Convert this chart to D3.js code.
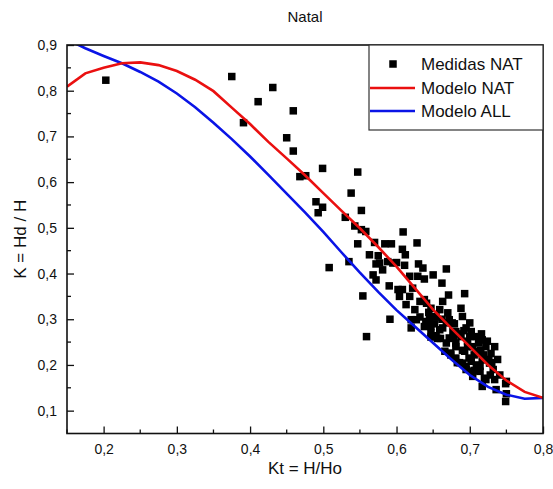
<!DOCTYPE html>
<html><head><meta charset="utf-8">
<script src="https://cdn.jsdelivr.net/npm/d3@7"></script>
<style>
html,body{margin:0;padding:0;background:#fff;}
text{font-family:"Liberation Sans",Arial,sans-serif;fill:#111;}
</style></head>
<body><svg id="chart" width="553" height="489"></svg>
<script>
const title = "Natal";
const xLabel = "Kt = H/Ho";
const yLabel = "K = Hd / H";
const seriesNames = ["Medidas NAT", "Modelo NAT", "Modelo ALL"];
const xTicks = [0.2,0.3,0.4,0.5,0.6,0.7,0.8];
const yTicks = [0.1,0.2,0.3,0.4,0.5,0.6,0.7,0.8,0.9];

// Modelo NAT (red)
const natX = [0.15,0.175,0.2,0.225,0.25,0.275,0.3,0.325,0.35,0.375,0.4,0.425,0.45,0.475,0.5,0.525,0.55,0.575,0.6,0.625,0.65,0.675,0.7,0.725,0.75,0.775,0.8];
const natY = [0.809,0.838,0.850,0.860,0.862,0.856,0.843,0.824,0.799,0.763,0.727,0.688,0.652,0.615,0.576,0.537,0.499,0.458,0.415,0.368,0.321,0.280,0.240,0.200,0.166,0.141,0.128];
// Modelo ALL (blue)
const allX = [0.15,0.175,0.2,0.225,0.25,0.275,0.3,0.325,0.35,0.375,0.4,0.425,0.45,0.475,0.5,0.525,0.55,0.575,0.6,0.625,0.65,0.675,0.7,0.725,0.75,0.775,0.8];
const allY = [0.912,0.893,0.876,0.860,0.841,0.820,0.794,0.764,0.730,0.694,0.656,0.616,0.575,0.534,0.491,0.446,0.402,0.360,0.320,0.284,0.248,0.212,0.178,0.152,0.135,0.126,0.128];

// Medidas NAT (scatter)
const medX = [0.203,0.375,0.391,0.411,0.431,0.450,0.459,0.459,
 0.499,0.547,0.468,0.476,0.538,0.490,0.499,0.493,0.552,0.530,0.543,0.552,0.558,0.609,0.547,0.570,0.584,0.593,0.628,0.608,0.563,0.575,0.612,0.535,0.572,0.588,0.600,0.611,0.630,0.508,
 0.636,0.668,0.618,0.629,0.638,0.650,0.662,0.608,0.622,0.671,0.693,0.618,0.638,0.663,0.613,0.625,0.647,0.659,0.688,0.670,0.632,0.654,0.690,0.620,0.640,0.672,0.679,0.647,0.663,0.695,0.681,0.702,0.654,0.672,0.688,0.709,0.647,0.697,0.717,0.668,0.681,0.704,0.722,0.734,0.674,0.693,0.711,0.729,0.681,0.699,0.717,0.690,0.709,0.727,0.695,0.714,0.732,0.704,0.720,0.734,0.717,0.736,0.749,0.750,0.749,
 0.554,0.591,0.559,0.620,0.590,0.602,0.604,0.568,0.572,0.581,0.595,0.577,0.632,0.641,0.627,0.645,0.638,0.647,0.659,0.650,0.668,0.677,0.681,0.674,0.714,0.714,0.722,0.704,0.695,0.750,
 0.684,0.700,0.712,0.690,0.706,0.676,0.726,0.662,0.656,0.686,0.697,0.708,0.719,0.730,0.741,0.678,0.715,0.702,0.666,0.644,0.652,0.700,0.724,0.738,0.706,0.692,0.683,0.728,0.716,0.660];
const medY = [0.823,0.831,0.730,0.776,0.807,0.697,0.756,0.668,
 0.630,0.622,0.612,0.614,0.576,0.557,0.545,0.533,0.538,0.523,0.504,0.496,0.492,0.491,0.465,0.468,0.465,0.465,0.467,0.453,0.441,0.439,0.441,0.426,0.421,0.426,0.424,0.418,0.421,0.413,
 0.412,0.410,0.394,0.394,0.388,0.397,0.379,0.365,0.368,0.353,0.356,0.350,0.343,0.339,0.332,0.321,0.324,0.321,0.324,0.314,0.305,0.305,0.306,0.299,0.295,0.299,0.290,0.284,0.281,0.281,0.273,0.273,0.264,0.259,0.262,0.262,0.261,0.252,0.255,0.248,0.240,0.240,0.240,0.240,0.226,0.230,0.226,0.225,0.215,0.215,0.211,0.204,0.200,0.204,0.190,0.186,0.190,0.175,0.171,0.168,0.153,0.146,0.159,0.137,0.120,
 0.351,0.300,0.262,0.281,0.373,0.365,0.350,0.397,0.386,0.408,0.423,0.423,0.339,0.335,0.299,0.299,0.284,0.270,0.277,0.306,0.292,0.273,0.248,0.222,0.255,0.197,0.168,0.186,0.197,0.164,
 0.268,0.262,0.248,0.232,0.222,0.292,0.212,0.300,0.258,0.205,0.240,0.230,0.222,0.205,0.178,0.258,0.232,0.208,0.230,0.315,0.290,0.292,0.252,0.212,0.188,0.275,0.205,0.178,0.268,0.258];

const W = 553, H = 489;
const m = {left:67, right:543, top:45, bottom:433.5};
const svg = d3.select("#chart");
const x = d3.scaleLinear().domain([0.15,0.8]).range([m.left,m.right]);
const y = d3.scaleLinear().domain([0.05,0.9]).range([m.bottom,m.top]);
const fmt = v => d3.format(".1f")(v).replace(".", ",");

svg.append("rect").attr("width",W).attr("height",H).attr("fill","#fff");

svg.append("defs").append("clipPath").attr("id","clip")
  .append("rect").attr("x",m.left).attr("y",m.top).attr("width",m.right-m.left).attr("height",m.bottom-m.top);

const plot = svg.append("g").attr("clip-path","url(#clip)");

// scatter
const pts = medX.map((v,i)=>[v,medY[i]]);
const sq = 7.5;
plot.append("g").selectAll("rect").data(pts).join("rect")
  .attr("x",d=>x(d[0])-sq/2).attr("y",d=>y(d[1])-sq/2)
  .attr("width",sq).attr("height",sq).attr("fill","#000");

const line = d3.line().x(d=>x(d[0])).y(d=>y(d[1])).curve(d3.curveLinear);
plot.append("path").datum(allX.map((v,i)=>[v,allY[i]]))
  .attr("d",line).attr("fill","none").attr("stroke","#0a14e6").attr("stroke-width",2.6);
plot.append("path").datum(natX.map((v,i)=>[v,natY[i]]))
  .attr("d",line).attr("fill","none").attr("stroke","#ea1010").attr("stroke-width",2.6);

// axes (ticks inward)
const xAxis = d3.axisBottom(x).tickValues(xTicks).tickSize(-7).tickPadding(11).tickFormat(fmt);
const gx = svg.append("g").attr("transform",`translate(0,${m.bottom})`).call(xAxis);
const xMinor = [0.15,0.25,0.35,0.45,0.55,0.65,0.75];
gx.selectAll(".minor").data(xMinor).join("line").attr("class","minor")
  .attr("x1",d=>x(d)).attr("x2",d=>x(d)).attr("y1",0).attr("y2",-4).attr("stroke","#111").attr("stroke-width",1.3);

const yAxis = d3.axisLeft(y).tickValues(yTicks).tickSize(-7).tickPadding(10).tickFormat(fmt);
const gy = svg.append("g").attr("transform",`translate(${m.left},0)`).call(yAxis);
const yMinor = [0.15,0.25,0.35,0.45,0.55,0.65,0.75,0.85];
gy.selectAll(".minor").data(yMinor).join("line").attr("class","minor")
  .attr("y1",d=>y(d)).attr("y2",d=>y(d)).attr("x1",0).attr("x2",4).attr("stroke","#111").attr("stroke-width",1.3);

[gx,gy].forEach(g=>{
  g.select(".domain").remove();
  g.selectAll(".tick line").attr("stroke","#111").attr("stroke-width",1.3);
  g.selectAll(".tick text").attr("font-size",14).attr("fill","#111").attr("font-family","Liberation Sans, Arial, sans-serif");
});

// frame
svg.append("rect").attr("x",m.left).attr("y",m.top).attr("width",m.right-m.left).attr("height",m.bottom-m.top)
  .attr("fill","none").attr("stroke","#111").attr("stroke-width",1.6);

// legend
const lg = svg.append("g");
lg.append("rect").attr("x",369).attr("y",m.top).attr("width",m.right-369).attr("height",85)
  .attr("fill","#fff").attr("stroke","#333").attr("stroke-width",1.2);
const ly = [64,88,111];
lg.append("rect").attr("x",393-sq/2).attr("y",ly[0]-sq/2).attr("width",sq).attr("height",sq).attr("fill","#000");
lg.append("line").attr("x1",370).attr("x2",415).attr("y1",ly[1]).attr("y2",ly[1]).attr("stroke","#ea1010").attr("stroke-width",2.6);
lg.append("line").attr("x1",370).attr("x2",415).attr("y1",ly[2]).attr("y2",ly[2]).attr("stroke","#0a14e6").attr("stroke-width",2.6);
seriesNames.forEach((s,i)=>{
  lg.append("text").attr("x",421).attr("y",ly[i]).attr("dy","0.36em").attr("font-size",17).text(s);
});

// titles
svg.append("text").attr("x",(m.left+m.right)/2).attr("y",17).attr("dy","0.36em").attr("text-anchor","middle").attr("font-size",15).text(title);
svg.append("text").attr("x",(m.left+m.right)/2).attr("y",468).attr("dy","0.36em").attr("text-anchor","middle").attr("font-size",17).text(xLabel);
svg.append("text").attr("transform",`translate(20,${(m.top+m.bottom)/2}) rotate(-90)`).attr("dy","0.36em").attr("text-anchor","middle").attr("font-size",17).text(yLabel);
</script></body></html>
